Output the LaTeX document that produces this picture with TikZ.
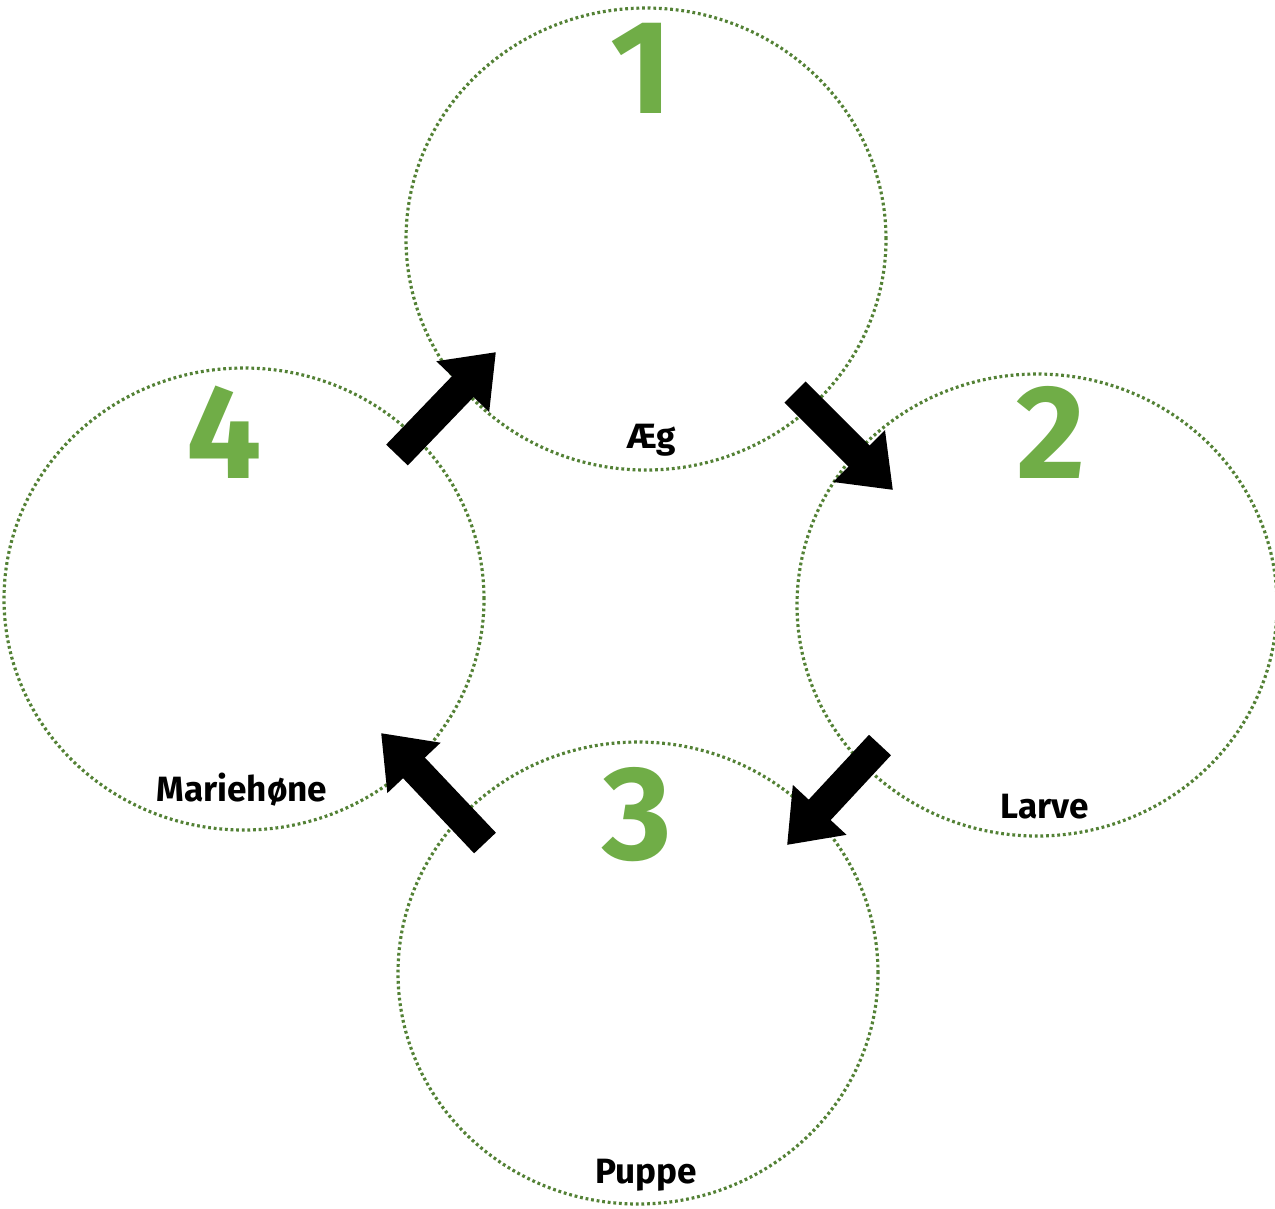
\documentclass[tikz,border=0pt]{standalone}
\usepackage{fontspec}
\setmainfont{Fira Sans}
\usepackage{xcolor}
\usetikzlibrary{arrows.meta,shapes.geometric}
\definecolor{ringgreen}{HTML}{538135}
\definecolor{numgreen}{HTML}{70AD47}

\begin{document}
\begin{tikzpicture}[
    stage/.style={ellipse, draw=ringgreen, line width=0.9pt, dash pattern=on 0.8pt off 0.8pt,
      minimum width=4.8cm, minimum height=4.62cm, inner sep=0pt},
    num/.style={font=\fontsize{38}{40}\selectfont\bfseries, text=numgreen, inner sep=0pt},
    lbl/.style={font=\fontsize{10}{12}\selectfont\bfseries, inner sep=0pt},
    flow/.style={line width=0.3cm, -{Triangle[width=0.7cm,length=0.48cm]}}
  ]
    \useasboundingbox (0,0) rectangle (12.75,-12.08);
    \node[stage] (egg) at (6.46,-2.39) {};
    \node[stage] (larva) at (10.37,-6.05) {};
    \node[stage] (pupa) at (6.38,-9.73) {};
    \node[stage] (adult) at (2.44,-5.99) {};

    \node[num] (n1) at (6.41,-0.68) {1};
    \node[num] (n2) at (10.51,-4.32) {2};
    \node[num] (n3) at (6.37,-8.15) {3};
    \node[num] (n4) at (2.24,-4.32) {4};

    \node[lbl] (egglabel) at (6.52,-4.40) {Æg};
    \node[lbl] (larvalabel) at (10.45,-8.07) {Larve};
    \node[lbl] (pupalabel) at (6.46,-11.75) {Puppe};
    \node[lbl] (adultlabel) at (2.42,-7.90) {Mariehøne};

    \coordinate (a1s) at (3.97,-4.55);
    \coordinate (a1e) at (4.96,-3.52);
    \coordinate (a2s) at (7.95,-3.92);
    \coordinate (a2e) at (8.93,-4.90);
    \coordinate (a3s) at (8.80,-7.45);
    \coordinate (a3e) at (7.87,-8.45);
    \coordinate (a4s) at (4.85,-8.43);
    \coordinate (a4e) at (3.81,-7.33);

    \draw[flow] (a1s) -- (a1e);
    \draw[flow] (a2s) -- (a2e);
    \draw[flow] (a3s) -- (a3e);
    \draw[flow] (a4s) -- (a4e);
  \end{tikzpicture}
\end{document}
